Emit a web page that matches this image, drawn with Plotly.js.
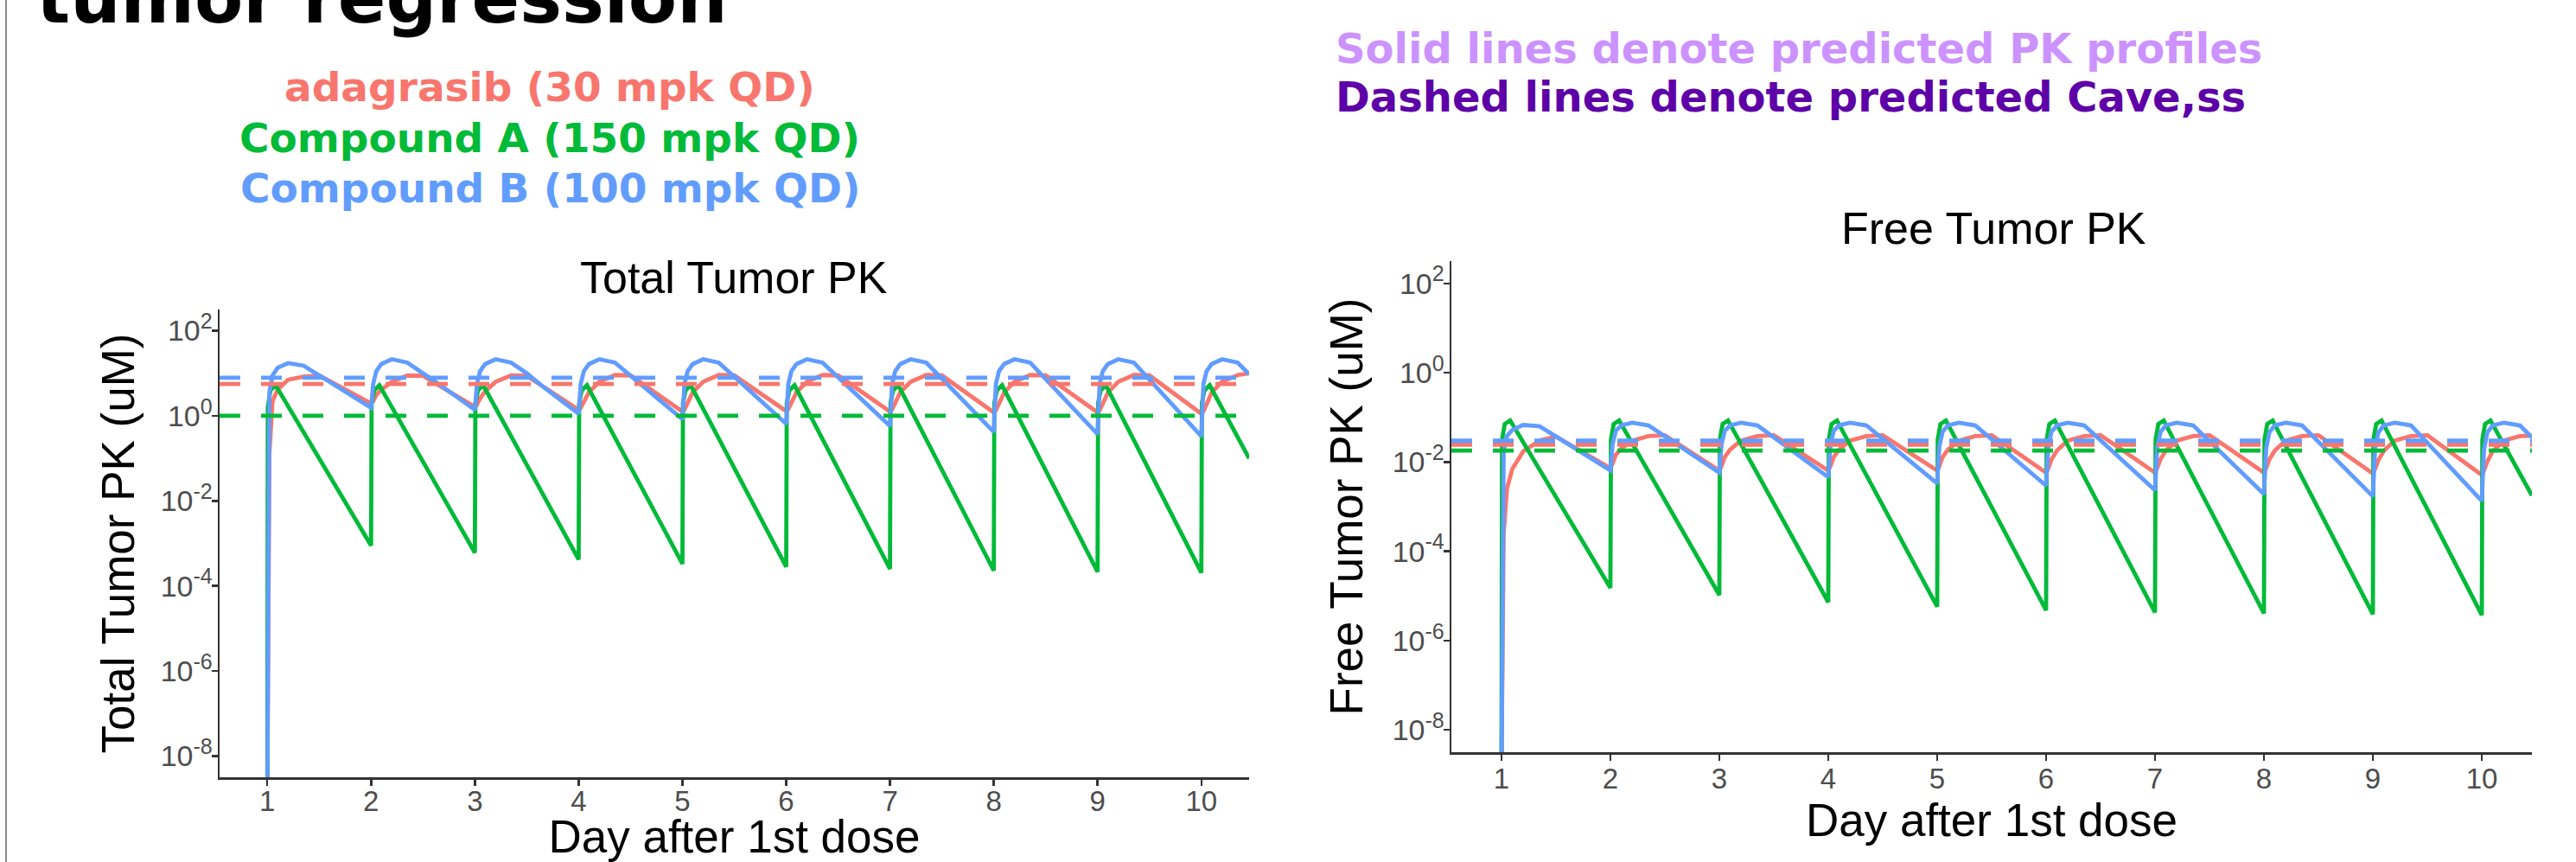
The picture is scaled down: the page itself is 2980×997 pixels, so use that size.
<!DOCTYPE html>
<html>
<head>
<meta charset="utf-8">
<script src="https://cdn.plot.ly/plotly-3.0.1.min.js"></script>
<style>html,body{margin:0;padding:0;background:#fff;overflow:hidden}</style>
</head>
<body>
<div id="chart" style="width:2980px;height:997px"></div>
<script>
// ---------------- DATA ----------------
const seriesNames = ['adagrasib (30 mpk QD)', 'Compound A (150 mpk QD)', 'Compound B (100 mpk QD)'];

// sampling times (day after 1st dose) for adagrasib and Compound B curves
const tSmooth = [
  1, 1.02, 1.05, 1.1, 1.2, 1.35, 1.5, 1.65, 1.8,
  2, 2.02, 2.05, 2.1, 2.2, 2.35, 2.5, 2.65, 2.8,
  3, 3.02, 3.05, 3.1, 3.2, 3.35, 3.5, 3.65, 3.8,
  4, 4.02, 4.05, 4.1, 4.2, 4.35, 4.5, 4.65, 4.8,
  5, 5.02, 5.05, 5.1, 5.2, 5.35, 5.5, 5.65, 5.8,
  6, 6.02, 6.05, 6.1, 6.2, 6.35, 6.5, 6.65, 6.8,
  7, 7.02, 7.05, 7.1, 7.2, 7.35, 7.5, 7.65, 7.8,
  8, 8.02, 8.05, 8.1, 8.2, 8.35, 8.5, 8.65, 8.8,
  9, 9.02, 9.05, 9.1, 9.2, 9.35, 9.5, 9.65, 9.8,
  10, 10.02, 10.05, 10.1, 10.2, 10.35, 10.46
];
// sampling times for Compound A (fast sawtooth)
const tSaw = [
  1, 1.005, 1.03, 1.08,
  2, 2.005, 2.03, 2.08,
  3, 3.005, 3.03, 3.08,
  4, 4.005, 4.03, 4.08,
  5, 5.005, 5.03, 5.08,
  6, 6.005, 6.03, 6.08,
  7, 7.005, 7.03, 7.08,
  8, 8.005, 8.03, 8.08,
  9, 9.005, 9.03, 9.08,
  10, 10.005, 10.03, 10.08,
  10.46
];

// Total tumor PK (uM)
const totalAdagrasib = [
  1e-9, 0.126, 2.24, 4.17, 7.08, 8.32, 8.91, 5.62, 3.55,
  1.95, 2.19, 3.09, 4.17, 6.31, 8.91, 8.71, 5.25, 3.16,
  1.62, 1.82, 2.57, 3.80, 6.31, 8.91, 8.71, 5.01, 2.88,
  1.38, 1.55, 2.19, 3.63, 6.31, 9.12, 8.91, 5.01, 2.75,
  1.26, 1.41, 2.00, 3.63, 6.31, 9.12, 8.91, 5.01, 2.82,
  1.29, 1.45, 2.04, 3.63, 6.31, 9.12, 8.91, 5.01, 2.75,
  1.26, 1.41, 2.00, 3.63, 6.31, 9.12, 8.91, 4.90, 2.69,
  1.20, 1.35, 1.91, 3.55, 6.31, 9.12, 8.91, 4.90, 2.69,
  1.20, 1.35, 1.91, 3.55, 6.31, 9.12, 8.91, 4.79, 2.57,
  1.12, 1.26, 1.78, 3.55, 6.31, 9.12, 10.0
];
const totalCompA = [
  1e-9, 1.58, 3.98, 5.25,
  8.91e-4, 2.0, 3.98, 5.25,
  6.03e-4, 2.0, 3.98, 5.25,
  4.17e-4, 2.0, 3.98, 5.25,
  3.31e-4, 2.0, 3.98, 5.25,
  2.82e-4, 2.0, 3.98, 5.25,
  2.51e-4, 2.0, 3.98, 5.25,
  2.29e-4, 2.0, 3.98, 5.25,
  2.14e-4, 2.0, 3.98, 5.25,
  2.04e-4, 2.0, 3.98, 5.25,
  0.1
];
const totalCompB = [
  1e-9, 3.55, 8.91, 13.5, 17.4, 15.1, 8.91, 5.25, 3.09,
  1.55, 5.62, 11.2, 16.6, 21.4, 17.8, 10.2, 5.62, 3.09,
  1.38, 5.62, 11.2, 16.6, 21.4, 17.8, 10.0, 5.01, 2.63,
  1.12, 5.62, 11.2, 16.6, 21.4, 17.8, 8.71, 4.37, 2.14,
  0.832, 5.62, 11.2, 16.6, 21.4, 17.8, 8.32, 3.80, 1.78,
  0.646, 5.62, 11.2, 16.6, 21.4, 17.8, 8.13, 3.63, 1.66,
  0.575, 5.62, 11.2, 16.6, 21.4, 17.8, 7.41, 3.16, 1.32,
  0.417, 5.62, 11.2, 16.6, 21.4, 17.8, 7.24, 3.02, 1.23,
  0.372, 5.62, 11.2, 16.6, 21.4, 17.8, 7.08, 2.82, 1.12,
  0.331, 5.62, 11.2, 16.6, 21.4, 17.8, 9.55
];

// Free tumor PK (uM)
const freeAdagrasib = [
  1e-9, 2.51e-4, 0.00251, 0.00708, 0.0174, 0.0302, 0.0372, 0.0224, 0.0138,
  0.00724, 0.00912, 0.0145, 0.0200, 0.0302, 0.0380, 0.0398, 0.0229, 0.0135,
  0.00646, 0.00813, 0.0129, 0.0191, 0.0302, 0.0380, 0.0398, 0.0229, 0.0135,
  0.00646, 0.00813, 0.0129, 0.0191, 0.0302, 0.0380, 0.0398, 0.0229, 0.0135,
  0.00646, 0.00813, 0.0129, 0.0191, 0.0302, 0.0380, 0.0398, 0.0224, 0.0126,
  0.00575, 0.00724, 0.0115, 0.0182, 0.0302, 0.0380, 0.0398, 0.0224, 0.0126,
  0.00575, 0.00724, 0.0115, 0.0182, 0.0302, 0.0380, 0.0398, 0.0224, 0.0126,
  0.00575, 0.00724, 0.0115, 0.0182, 0.0302, 0.0380, 0.0398, 0.0219, 0.0120,
  0.00550, 0.00692, 0.0110, 0.0178, 0.0302, 0.0380, 0.0398, 0.0214, 0.0117,
  0.00513, 0.00646, 0.0102, 0.0174, 0.0302, 0.0380, 0.0389
];
const freeCompA = [
  1e-9, 0.0316, 0.0708, 0.0851,
  1.51e-5, 0.0316, 0.0708, 0.0851,
  1.05e-5, 0.0316, 0.0708, 0.0851,
  7.24e-6, 0.0316, 0.0708, 0.0851,
  5.75e-6, 0.0316, 0.0708, 0.0851,
  4.79e-6, 0.0316, 0.0708, 0.0851,
  4.27e-6, 0.0316, 0.0708, 0.0851,
  4.07e-6, 0.0316, 0.0708, 0.0851,
  3.89e-6, 0.0316, 0.0708, 0.0851,
  3.72e-6, 0.0316, 0.0708, 0.0851,
  1.78e-3
];
const freeCompB = [
  1e-9, 0.0178, 0.0380, 0.0525, 0.0676, 0.0631, 0.0372, 0.0219, 0.0132,
  0.00646, 0.0251, 0.0501, 0.0661, 0.0759, 0.0661, 0.0380, 0.0214, 0.0123,
  0.00575, 0.0251, 0.0501, 0.0661, 0.0759, 0.0661, 0.0355, 0.0191, 0.0105,
  0.00457, 0.0240, 0.0501, 0.0661, 0.0759, 0.0661, 0.0331, 0.0166, 0.00832,
  0.00331, 0.0224, 0.0479, 0.0661, 0.0759, 0.0661, 0.0324, 0.0158, 0.00759,
  0.00295, 0.0224, 0.0479, 0.0661, 0.0759, 0.0661, 0.0309, 0.0141, 0.00661,
  0.00234, 0.0209, 0.0468, 0.0661, 0.0759, 0.0661, 0.0288, 0.0129, 0.00562,
  0.00191, 0.0200, 0.0468, 0.0661, 0.0759, 0.0661, 0.0282, 0.0120, 0.00525,
  0.00170, 0.0200, 0.0457, 0.0661, 0.0759, 0.0661, 0.0269, 0.0110, 0.00447,
  0.00135, 0.0191, 0.0457, 0.0661, 0.0759, 0.0661, 0.0355
];

// predicted Cave,ss (uM): adagrasib, Compound A, Compound B
const caveTotal = [5.6, 1.0, 7.85];
const caveFree = [0.0245, 0.018, 0.030];

// axes
const dayRange = [0.54, 10.46];
const dayTicks = [1, 2, 3, 4, 5, 6, 7, 8, 9, 10];
const concTickVals = [1e-8, 1e-6, 1e-4, 1e-2, 1, 100];
const concExponents = ['-8', '-6', '-4', '-2', '0', '2'];

// texts
const headTitle = 'tumor regression';
const panelTitles = ['Total Tumor PK', 'Free Tumor PK'];
const yTitles = ['Total Tumor PK (uM)', 'Free Tumor PK (uM)'];
const xTitle = 'Day after 1st dose';
const noteSolid = 'Solid lines denote predicted PK profiles';
const noteDashed = 'Dashed lines denote predicted Cave,ss';

// ---------------- STYLE ----------------
const W = 2980, H = 997;
const colors = ['#F8766D', '#00BA38', '#619CFF'];
const px = v => v / W;
const py = v => 1 - v / H;
const sans = 'Liberation Sans, Arial, sans-serif';
const bold = 'DejaVu Sans, Verdana, sans-serif';
const concTickText = concExponents.map(e => '10<sup><span style="font-size:25px">' + e + '</span></sup>');

function solid(x, y, i, xa, ya) {
  return {x: x, y: y, xaxis: xa, yaxis: ya, type: 'scatter', mode: 'lines',
    name: seriesNames[i], line: {color: colors[i], width: 4.8}, hoverinfo: 'skip'};
}
function dashed(v, i, xa, ya) {
  return {x: dayRange, y: [v, v], xaxis: xa, yaxis: ya, type: 'scatter', mode: 'lines',
    name: seriesNames[i] + ' Cave,ss', line: {color: colors[i], width: 4.8, dash: '24px,24px'}, hoverinfo: 'skip'};
}

const traces = [
  solid(tSmooth, totalAdagrasib, 0, 'x', 'y'),
  solid(tSaw, totalCompA, 1, 'x', 'y'),
  solid(tSmooth, totalCompB, 2, 'x', 'y'),
  dashed(caveTotal[0], 0, 'x', 'y'),
  dashed(caveTotal[1], 1, 'x', 'y'),
  dashed(caveTotal[2], 2, 'x', 'y'),
  solid(tSmooth, freeAdagrasib, 0, 'x2', 'y2'),
  solid(tSaw, freeCompA, 1, 'x2', 'y2'),
  solid(tSmooth, freeCompB, 2, 'x2', 'y2'),
  dashed(caveFree[0], 0, 'x2', 'y2'),
  dashed(caveFree[1], 1, 'x2', 'y2'),
  dashed(caveFree[2], 2, 'x2', 'y2')
];

function xAxis(domain, anchor, standoff, labelShift) {
  return {
    domain: domain, anchor: anchor, range: dayRange, tickmode: 'array', tickvals: dayTicks,
    showline: true, linecolor: '#333333', linewidth: 2.5, mirror: false,
    ticks: 'outside', ticklen: 7, tickwidth: 2.5, tickcolor: '#333333',
    tickfont: {family: sans, size: 33, color: '#4D4D4D'}, ticklabelstandoff: labelShift,
    showgrid: false, zeroline: false,
    title: {text: xTitle, font: {family: sans, size: 53, color: '#000000'}, standoff: standoff}
  };
}
function yAxis(domain, anchor, title, standoff) {
  return {
    domain: domain, anchor: anchor, type: 'log', range: [-8.5, 2.5],
    tickmode: 'array', tickvals: concTickVals, ticktext: concTickText,
    showline: true, linecolor: '#333333', linewidth: 2.5, mirror: false,
    ticks: 'outside', ticklen: 7, tickwidth: 2.5, tickcolor: '#333333',
    tickfont: {family: sans, size: 34, color: '#4D4D4D'}, ticklabelstandoff: -8,
    showgrid: false, zeroline: false,
    title: {text: title, font: {family: sans, size: 53, color: '#000000'}, standoff: standoff}
  };
}

const annotations = [
  {text: headTitle, xref: 'paper', yref: 'paper', x: px(40), y: py(-2), xanchor: 'left', yanchor: 'middle',
   showarrow: false, font: {family: bold, size: 82, color: '#000000', weight: 'bold'}},
  {text: seriesNames[0], xref: 'paper', yref: 'paper', x: px(636), y: py(101), xanchor: 'center', yanchor: 'middle',
   showarrow: false, font: {family: bold, size: 47, color: colors[0], weight: 'bold'}},
  {text: seriesNames[1], xref: 'paper', yref: 'paper', x: px(636), y: py(160), xanchor: 'center', yanchor: 'middle',
   showarrow: false, font: {family: bold, size: 47, color: colors[1], weight: 'bold'}},
  {text: seriesNames[2], xref: 'paper', yref: 'paper', x: px(636), y: py(218), xanchor: 'center', yanchor: 'middle',
   showarrow: false, font: {family: bold, size: 47, color: colors[2], weight: 'bold'}},
  {text: noteSolid, xref: 'paper', yref: 'paper', x: px(1543), y: py(56), xanchor: 'left', yanchor: 'middle',
   showarrow: false, font: {family: bold, size: 48, color: '#CC92FF', weight: 'bold'}},
  {text: noteDashed, xref: 'paper', yref: 'paper', x: px(1543), y: py(112), xanchor: 'left', yanchor: 'middle',
   showarrow: false, font: {family: bold, size: 48, color: '#5E00A8', weight: 'bold'}},
  {text: panelTitles[0], xref: 'paper', yref: 'paper', x: px(849), y: py(321), xanchor: 'center', yanchor: 'middle',
   showarrow: false, font: {family: sans, size: 52, color: '#000000'}},
  {text: panelTitles[1], xref: 'paper', yref: 'paper', x: px(2306), y: py(264), xanchor: 'center', yanchor: 'middle',
   showarrow: false, font: {family: sans, size: 52, color: '#000000'}}
];

const layout = {
  width: W, height: H,
  margin: {l: 0, r: 0, t: 0, b: 0, pad: 0},
  paper_bgcolor: '#ffffff', plot_bgcolor: '#ffffff',
  showlegend: false,
  xaxis: xAxis([px(254), px(1445)], 'y', 10, -10),
  yaxis: yAxis([py(899), py(358)], 'x', yTitles[0], 13),
  xaxis2: xAxis([px(1679), px(2929)], 'y2', 11, -7),
  yaxis2: yAxis([py(870), py(302)], 'x2', yTitles[1], 17),
  annotations: annotations,
  shapes: [
    {type: 'line', xref: 'paper', yref: 'paper', x0: px(7), x1: px(7), y0: 0, y1: 1,
     line: {color: '#8C8C8C', width: 2}}
  ]
};

Plotly.newPlot('chart', traces, layout, {displayModeBar: false, staticPlot: true});
</script>
</body>
</html>
